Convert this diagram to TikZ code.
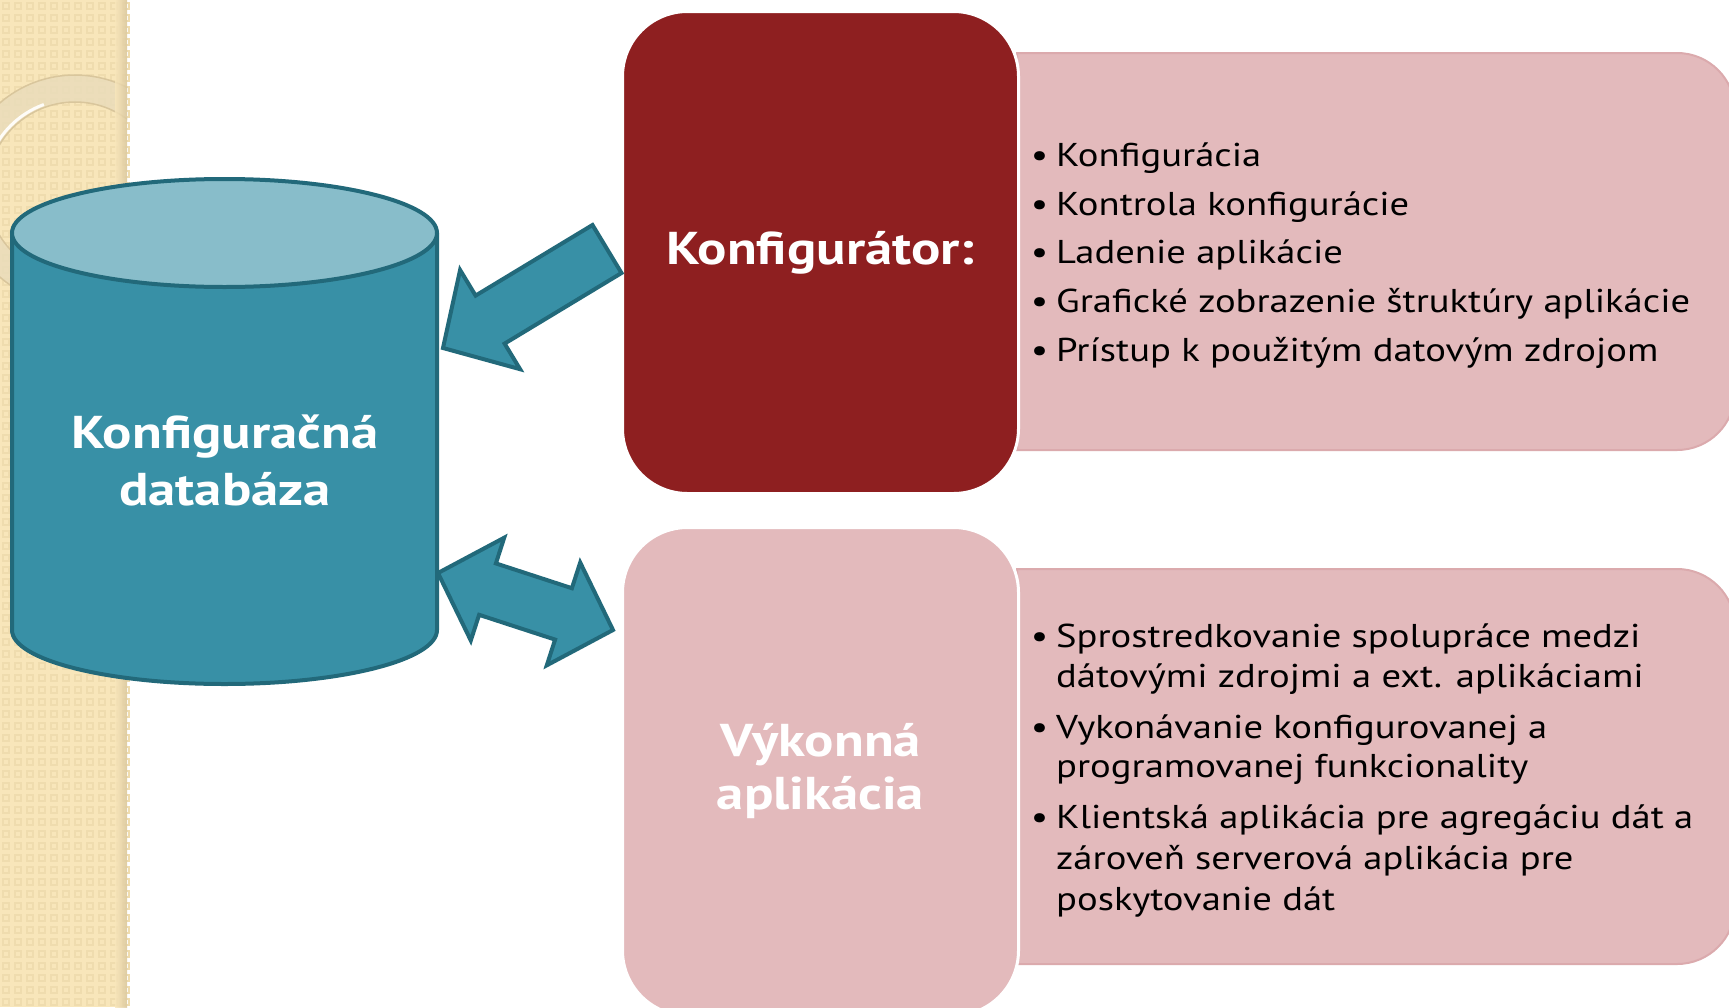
\documentclass[tikz,border=0pt]{standalone}
\usepackage{fontspec}
\setmainfont{PT Sans}[FakeStretch=1.17, BoldFeatures={FakeStretch=1.19}]
\definecolor{stripbase}{HTML}{F8E6BA}
\definecolor{stripdot}{HTML}{EFDCAE}
\definecolor{stripshadow}{HTML}{D8C59C}
\definecolor{ringband}{HTML}{EADCBA}
\definecolor{ringedge}{HTML}{D9C69C}
\definecolor{cylbody}{HTML}{3890A6}
\definecolor{cyltop}{HTML}{88BDCA}
\definecolor{cylline}{HTML}{22697A}
\definecolor{darkred}{HTML}{8E1F20}
\definecolor{softpink}{HTML}{E3BABC}
\definecolor{pinkline}{HTML}{DBAAAD}
\tikzset{
  panel/.style={fill=softpink, draw=pinkline, line width=2pt},
  bigbox/.style={rounded corners=65pt, draw=white, line width=3pt,
    minimum width=396pt, inner sep=0pt, text=white, align=center},
  tealshape/.style={fill=cylbody, draw=cylline, line width=4pt, line join=miter},
  listline/.style={anchor=base west, inner sep=0pt, font=\fontsize{33}{40}\selectfont},
  headfont/.style={font=\fontsize{46}{53}\bfseries\selectfont},
}
\newcommand{\bul}{\llap{•\hspace{8pt}}}
\begin{document}
\begin{tikzpicture}[x=1pt,y=-1pt]
\useasboundingbox (0,0) rectangle (1729,1007);
\fill[white] (0,0) rectangle (1729,1007);

% decorative strip on the left
\fill[stripbase] (0,0) rectangle (127,1007);
\foreach \i in {0,...,10}
  \foreach \j in {0,...,84}
    \draw[stripdot, line width=1.3pt] (\i*12+3,\j*12+3) rectangle ++(6,6);
\begin{scope}
  \clip (0,0) rectangle (127,1007);
  \fill[ringband, opacity=0.85, even odd rule] (75,190) circle (115) (75,190) circle (88);
  \draw[ringedge, line width=1.5pt] (75,190) circle (115);
  \draw[ringedge, line width=1.5pt] (75,190) circle (88);
  \draw[white!90!stripbase, line width=3pt] (75,190) ++(200:91) arc[start angle=200, end angle=250, radius=91];
\end{scope}
\shade[left color=stripbase, right color=stripshadow, opacity=0.8] (115,0) rectangle (127,1007);

% list panels behind the headline boxes
\draw[panel] (1017,53) [rounded corners=58pt] -- (1735,53) -- (1735,450) [sharp corners] -- (1017,450) -- cycle;
\draw[panel] (1017,569) [rounded corners=58pt] -- (1735,569) -- (1735,964) [sharp corners] -- (1017,964) -- cycle;

% headline boxes
\node[bigbox, fill=darkred, minimum height=482pt, anchor=north west, headfont]
  (konf) at (621,10) {Konfigurátor:};
\node[bigbox, fill=softpink, minimum height=488pt, anchor=north west, headfont]
  (vyk) at (621,526) {Výkonná\\aplikácia};

% database cylinder
\draw[tealshape, line join=round] (12,233) -- (12,630)
  arc[start angle=180, end angle=0, x radius=212.5, y radius=54] -- (437,233) -- cycle;
\draw[tealshape, fill=cyltop] (224.5,233) ellipse [x radius=212.5, y radius=54];
\node[text=white, align=center, inner sep=0pt,
      font=\fontsize{46}{57}\bfseries\selectfont] (db) at (225,460) {Konfiguračná\\databáza};

% block arrows between the database and the two boxes
\draw[tealshape] (443,348) -- (460.1,270.0) -- (475.6,295.6) -- (592.5,225)
  -- (621.5,273) -- (504.6,343.6) -- (520.1,369.2) -- cycle;
\draw[tealshape] (438,573) -- (504.2,537.7) -- (495.9,563.4) -- (571.9,588.2)
  -- (580.2,562.5) -- (613,630) -- (546.8,665.3) -- (555.1,639.6)
  -- (479.1,614.8) -- (470.8,640.5) -- cycle;

% bullet list of the configurator
\node[listline] (k1) at (1056,166) {\bul Konfigurácia};
\node[listline] (k2) at (1056,215) {\bul Kontrola konfigurácie};
\node[listline] (k3) at (1056,263) {\bul Ladenie aplikácie};
\node[listline] (k4) at (1056,312) {\bul Grafické zobrazenie štruktúry aplikácie};
\node[listline] (k5) at (1056,361) {\bul Prístup k použitým datovým zdrojom};

% bullet list of the runtime application
\node[listline] (v1) at (1056,647) {\bul Sprostredkovanie spolupráce medzi};
\node[listline] (v1b) at (1056,687) {dátovými zdrojmi a ext. aplikáciami};
\node[listline] (v2) at (1056,738) {\bul Vykonávanie konfigurovanej a};
\node[listline] (v2b) at (1056,777) {programovanej funkcionality};
\node[listline] (v3) at (1056,828) {\bul Klientská aplikácia pre agregáciu dát a};
\node[listline] (v3b) at (1056,869) {zároveň serverová aplikácia pre};
\node[listline] (v3c) at (1056,910) {poskytovanie dát};
\end{tikzpicture}
\end{document}
